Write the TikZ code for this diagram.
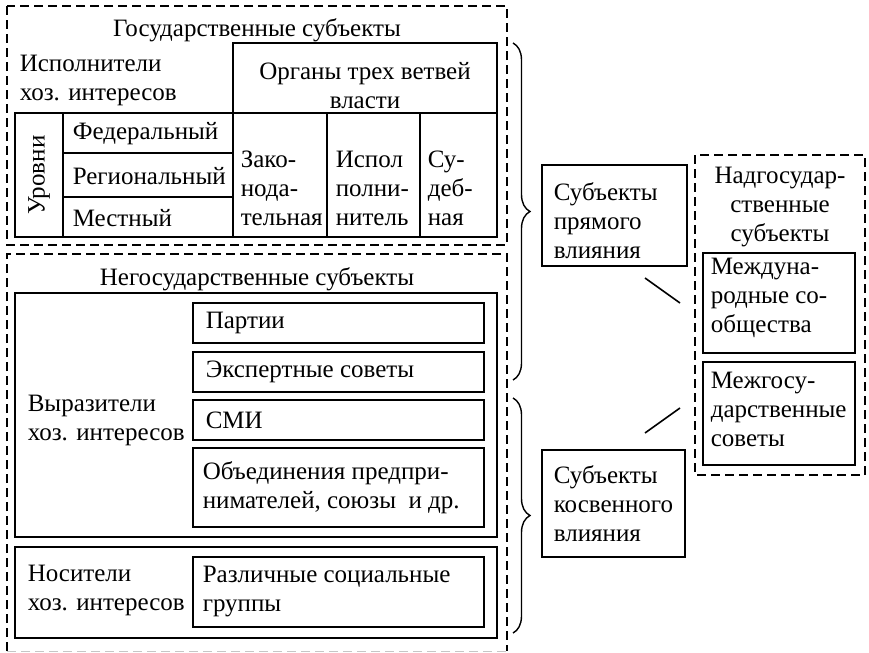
\documentclass[tikz,border=0pt]{standalone}
\usepackage{fontspec}
\setmainfont{Liberation Serif}
\usetikzlibrary{decorations.pathreplacing}

\begin{document}
\begin{tikzpicture}[x=0.5pt, y=-0.5pt, line width=0.8pt,
	font=\fontsize{12.5}{14.5}\selectfont,
	txt/.style={inner sep=0pt, align=left, anchor=west},
	ttl/.style={inner sep=0pt, align=center},
	dbox/.style={dash pattern=on 4.5pt off 2.5pt},
	brc/.style={decorate, decoration={brace, amplitude=8.5pt}, line width=0.7pt}]
	\useasboundingbox (0,0) rectangle (869,653);
	
	\draw [dbox] (7,6) rectangle (507,245);
	\node[ttl] (gos) at (257,30) {Государственные субъекты};
	\node[txt] (ispoln) at (19,80) {Исполнители\\хоз. интересов};
	
	\draw [] (233,43) rectangle (497,113);
	\node[ttl] (organy) at (365,86) {Органы трех ветвей\\власти};
	
	\draw [] (15,113) rectangle (497,237);
	\draw [] (63,113) -- (63,237);
	\draw [] (63,153) -- (233,153);
	\draw [] (63,197) -- (233,197);
	\draw [] (233,113) -- (233,237);
	\draw [] (327,113) -- (327,237);
	\draw [] (420,113) -- (420,237);
	
	\node[ttl, rotate=90] (urovni) at (39,175) {Уровни};
	\node[txt] (feder) at (72,134) {Федеральный};
	\node[txt] (region) at (72,176) {Региональный};
	\node[txt] (mestn) at (72,218) {Местный};
	
	\node[txt] (zakon) at (240,188) {Зако-\\нода-\\тельная};
	\node[txt] (ispol) at (335,188) {Испол\\полни-\\нитель};
	\node[txt] (sud) at (427,188) {Су-\\деб-\\ная};
	
	\draw [dbox] (7,651) -- (7,254) -- (507,254) -- (507,651);
	\draw [dbox, gray!45, line width=0.5pt] (7,651) -- (507,651);
	\node[ttl] (negos) at (257,279) {Негосударственные субъекты};
	
	\draw [] (15,293) rectangle (497,537);
	\node[txt] (vyraz) at (27,420) {Выразители\\хоз. интересов};
	
	\draw [] (193,303) rectangle (484,343);
	\node[txt] (partii) at (205,323) {Партии};
	\draw [] (193,352) rectangle (484,392);
	\node[txt] (eksp) at (205,372) {Экспертные советы};
	\draw [] (193,400) rectangle (484,440);
	\node[txt] (smi) at (205,420) {СМИ};
	\draw [] (193,448) rectangle (484,527);
	\node[txt] (obed) at (202,488) {Объединения предпри-\\нимателей, союзы\ \ и др.};
	
	\draw [] (15,547) rectangle (497,638);
	\node[txt] (nosit) at (27,590) {Носители\\хоз. интересов};
	\draw [] (193,557) rectangle (484,627);
	\node[txt] (razl) at (202,592) {Различные социальные\\группы};
	
	\draw [brc] (513,43) -- (513,380);
	\draw [brc] (513,398) -- (513,633);
	
	\draw [] (542,165) rectangle (687,266);
	\node[txt] (pryam) at (553,221) {Субъекты\\прямого\\влияния};
	\draw [] (542,450) rectangle (685,557);
	\node[txt] (kosv) at (553,504) {Субъекты\\косвенного\\влияния};
	
	\draw [dbox] (695,155) rectangle (865,475);
	\node[ttl] (nadgos) at (780,207) {Надгосудар-\\ственные\\субъекты};
	\draw [] (703,253) rectangle (855,353);
	\node[txt] (mezhd) at (710,298) {Междуна-\\родные со-\\общества};
	\draw [] (703,362) rectangle (855,465);
	\node[txt] (mezhg) at (710,409) {Межгосу-\\дарственные\\советы};
	
	\coordinate (la) at (645,278);
	\coordinate (lb) at (680,303);
	\coordinate (lc) at (645,433);
	\coordinate (ld) at (680,408);
	\draw [] (la) -- (lb);
	\draw [] (lc) -- (ld);
\end{tikzpicture}
\end{document}
